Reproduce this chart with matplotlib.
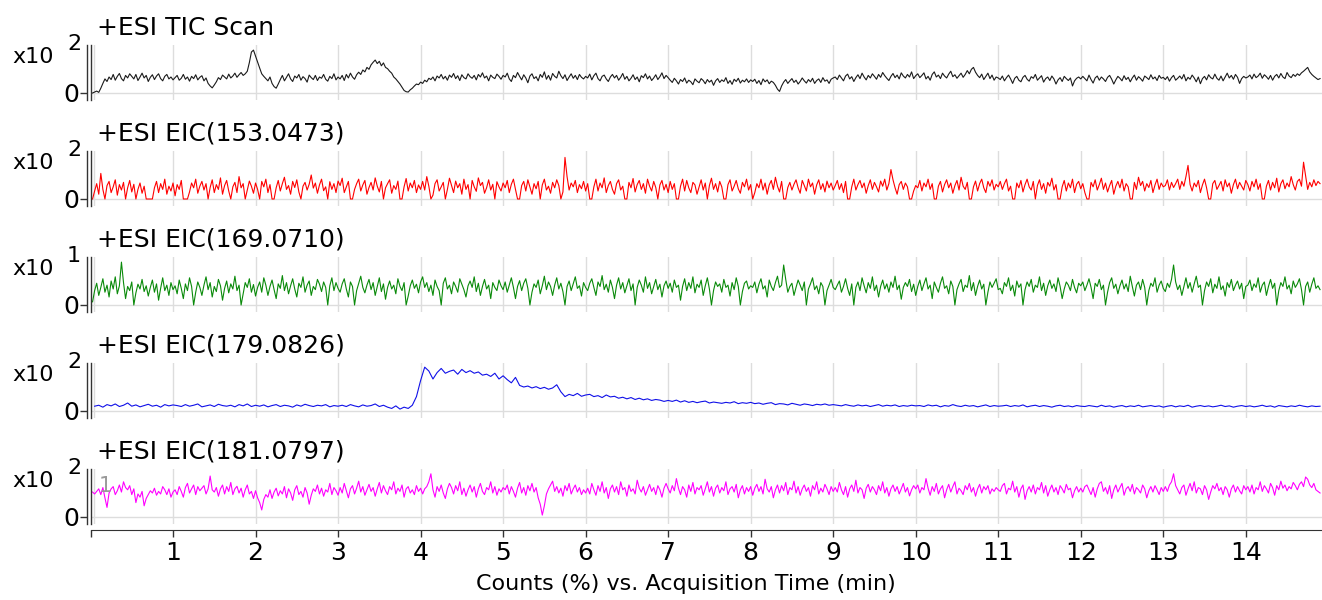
import numpy as np
import matplotlib
matplotlib.use("Agg")
import matplotlib.pyplot as plt
from matplotlib.lines import Line2D

plt.rcParams['font.family'] = ['DejaVu Sans']

# scan interval of each trace (min)
scan_step = [0.025, 0.025, 0.025, 0.05, 0.025]

# counts, in hundredths of the panel's axis unit (one row per minute)
tic_scan = [
    0, 3, 6, 2, 15, 30, 44, 36, 50, 42, 58, 40, 52, 61, 45, 38, 55, 47, 60, 52, 44, 58, 39, 50, 62, 47, 55, 36, 49, 57, 42, 53, 60, 45, 38, 52, 58, 44, 50, 41,
    48, 55, 40, 46, 58, 43, 50, 37, 52, 45, 57, 41, 49, 54, 38, 47, 30, 22, 16, 25, 35, 48, 42, 56, 50, 44, 59, 47, 53, 62, 49, 57, 64, 55, 60, 68, 95, 128, 134, 115,
    96, 78, 60, 52, 45, 38, 50, 30, 20, 15, 28, 42, 55, 38, 49, 60, 44, 36, 53, 47, 58, 40, 51, 45, 34, 56, 48, 42, 55, 39, 50, 46, 58, 43, 37, 52, 45, 60, 41, 50,
    44, 55, 39, 58, 47, 62, 50, 43, 57, 65, 58, 72, 66, 80, 74, 88, 96, 103, 92, 99, 85, 94, 80, 76, 68, 62, 50, 44, 36, 28, 18, 8, 4, 3, 10, 15, 22, 28, 26, 34,
    30, 40, 35, 46, 42, 50, 38, 53, 47, 58, 44, 52, 40, 56, 49, 61, 45, 54, 39, 57, 48, 44, 60, 51, 46, 55, 41, 58, 50, 63, 47, 53, 38, 56, 49, 45, 59, 52, 43, 55,
    50, 62, 44, 36, 55, 48, 64, 52, 41, 57, 47, 32, 53, 60, 45, 51, 38, 58, 49, 66, 43, 55, 40, 61, 52, 47, 68, 54, 45, 57, 39, 50, 60, 46, 55, 42, 58, 49, 44, 52,
    47, 59, 41, 54, 62, 45, 38, 52, 56, 44, 36, 50, 58, 47, 55, 40, 49, 61, 43, 52, 38, 46, 57, 42, 50, 35, 54, 48, 60, 44, 53, 39, 47, 57, 42, 51, 63, 45, 55, 48,
    40, 33, 46, 38, 28, 42, 36, 47, 31, 40, 35, 26, 44, 37, 32, 45, 39, 29, 42, 34, 40, 24, 38, 45, 33, 41, 36, 48, 30, 39, 27, 43, 36, 46, 31, 40, 35, 44, 33, 41,
    36, 43, 30, 39, 26, 44, 35, 41, 29, 37, 33, 24, 12, 5, 22, 34, 42, 30, 38, 45, 33, 40, 28, 36, 47, 38, 31, 42, 35, 46, 30, 39, 44, 33, 48, 37, 41, 30, 43, 47,
    50, 42, 56, 47, 38, 53, 59, 44, 51, 36, 48, 57, 45, 62, 50, 41, 55, 47, 60, 52, 43, 58, 49, 64, 54, 46, 39, 52, 61, 48, 56, 44, 63, 53, 47, 58, 50, 66, 45, 54,
    60, 48, 55, 63, 44, 52, 40, 58, 66, 50, 56, 45, 62, 53, 47, 59, 68, 51, 57, 46, 54, 62, 49, 58, 70, 60, 74, 80, 65, 55, 48, 59, 42, 52, 62, 45, 56, 40, 50, 47,
    42, 53, 38, 48, 56, 44, 30, 46, 52, 40, 35, 49, 55, 43, 37, 51, 46, 58, 40, 47, 54, 34, 45, 50, 39, 53, 44, 28, 41, 48, 36, 52, 45, 39, 47, 22, 38, 46, 50, 44,
    52, 45, 38, 56, 42, 31, 47, 53, 40, 50, 44, 36, 49, 55, 43, 28, 41, 52, 46, 38, 54, 42, 49, 35, 47, 56, 40, 51, 45, 37, 53, 48, 42, 57, 44, 50, 39, 55, 46, 49,
    42, 51, 37, 48, 55, 40, 46, 53, 44, 58, 38, 49, 43, 56, 47, 35, 50, 29, 45, 52, 41, 57, 48, 44, 59, 46, 40, 53, 38, 50, 62, 47, 55, 43, 58, 49, 30, 45, 52, 47,
    50, 56, 44, 59, 48, 53, 62, 46, 57, 51, 43, 55, 40, 52, 58, 47, 61, 50, 45, 64, 53, 48, 58, 52, 60, 55, 63, 68, 74, 80, 66, 58, 52, 47, 42, 45,
]

eic_153 = [
    0, 25, 48, 15, 80, 30, 0, 42, 55, 20, 38, 60, 12, 45, 28, 52, 0, 35, 58, 22, 46, 0, 30, 50, 18, 40, 0, 0, 0, 0, 35, 55, 20, 48, 30, 62, 15, 40, 25, 50,
    10, 45, 30, 58, 0, 0, 0, 22, 50, 35, 62, 18, 40, 55, 28, 48, 0, 36, 60, 20, 45, 30, 66, 15, 42, 58, 25, 0, 38, 52, 20, 70, 35, 48, 0, 28, 56, 40, 18, 50,
    30, 0, 55, 38, 62, 20, 45, 0, 0, 35, 58, 25, 48, 68, 30, 42, 15, 55, 36, 60, 22, 0, 40, 52, 28, 46, 75, 34, 50, 18, 44, 62, 26, 38, 0, 54, 30, 48, 20, 56,
    42, 65, 20, 38, 55, 0, 0, 30, 48, 62, 25, 44, 58, 15, 36, 52, 28, 66, 40, 22, 55, 0, 35, 48, 60, 18, 42, 30, 56, 0, 0, 38, 64, 25, 50, 35, 58, 20, 44, 30,
    55, 28, 70, 40, 0, 12, 48, 60, 25, 38, 52, 0, 30, 65, 42, 20, 56, 35, 48, 15, 62, 30, 45, 0, 58, 38, 24, 66, 42, 52, 18, 35, 60, 28, 46, 0, 54, 38, 25, 50,
    35, 58, 20, 46, 62, 30, 0, 0, 42, 55, 25, 60, 38, 15, 48, 32, 55, 0, 44, 62, 28, 40, 18, 52, 35, 60, 42, 0, 22, 130, 70, 28, 50, 38, 58, 20, 45, 32, 55, 25,
    48, 0, 0, 38, 62, 25, 50, 35, 66, 20, 42, 55, 30, 15, 48, 60, 28, 40, 0, 0, 52, 35, 64, 22, 45, 58, 30, 48, 18, 62, 40, 25, 55, 36, 0, 44, 58, 28, 46, 20,
    55, 30, 48, 0, 0, 40, 62, 25, 58, 35, 20, 52, 44, 15, 38, 60, 28, 50, 0, 42, 65, 30, 48, 22, 55, 38, 0, 0, 45, 60, 25, 40, 58, 32, 18, 52, 38, 62, 28, 45,
    0, 20, 48, 35, 62, 28, 50, 15, 44, 58, 30, 68, 40, 22, 55, 0, 0, 36, 52, 28, 46, 60, 35, 18, 58, 42, 25, 62, 38, 50, 15, 44, 60, 30, 48, 22, 56, 35, 50, 28,
    42, 58, 30, 48, 20, 55, 0, 0, 38, 62, 28, 45, 58, 35, 50, 18, 42, 60, 30, 52, 38, 22, 56, 40, 62, 28, 48, 92, 60, 35, 15, 45, 55, 30, 50, 38, 0, 0, 25, 42,
    35, 58, 25, 50, 38, 62, 30, 48, 0, 0, 40, 55, 22, 45, 60, 35, 50, 18, 42, 58, 28, 68, 40, 30, 52, 0, 0, 38, 56, 25, 48, 62, 35, 20, 55, 40, 60, 28, 46, 38,
    55, 30, 48, 62, 25, 40, 0, 0, 50, 35, 58, 22, 45, 62, 38, 28, 55, 0, 42, 60, 30, 48, 18, 52, 40, 65, 28, 45, 0, 0, 38, 58, 25, 50, 35, 62, 20, 46, 55, 32,
    48, 20, 0, 0, 52, 38, 60, 28, 45, 65, 30, 50, 22, 42, 58, 15, 40, 55, 35, 62, 25, 48, 38, 0, 0, 52, 30, 68, 42, 55, 25, 48, 36, 58, 20, 44, 62, 30, 50, 38,
    42, 60, 28, 52, 36, 48, 62, 30, 55, 40, 70, 105, 45, 25, 50, 38, 58, 20, 44, 62, 35, 0, 0, 48, 58, 30, 42, 55, 25, 60, 38, 50, 18, 45, 62, 32, 52, 40, 28, 58,
    45, 25, 55, 38, 62, 30, 48, 0, 0, 40, 58, 28, 52, 35, 65, 22, 48, 60, 32, 50, 38, 70, 45, 28, 55, 62, 40, 115, 72, 30, 52, 38, 60, 42, 55, 48,
]

eic_169 = [
    10, 45, 68, 30, 55, 82, 40, 62, 25, 75, 50, 88, 35, 60, 134, 70, 20, 58, 45, 72, 0, 38, 65, 50, 80, 42, 60, 28, 55, 78, 40, 66, 15, 52, 85, 45, 62, 30, 70, 48,
    60, 35, 78, 52, 20, 66, 45, 85, 58, 0, 40, 72, 55, 30, 62, 88, 48, 70, 25, 58, 42, 80, 60, 15, 52, 75, 38, 66, 50, 90, 45, 62, 0, 35, 70, 55, 82, 40, 64, 28,
    55, 72, 40, 85, 62, 30, 58, 78, 48, 20, 66, 52, 92, 45, 70, 35, 60, 82, 50, 25, 68, 55, 88, 40, 62, 75, 30, 58, 48, 80, 65, 42, 72, 55, 0, 60, 85, 45, 70, 52,
    40, 66, 82, 50, 25, 72, 58, 0, 45, 68, 90, 55, 38, 62, 80, 48, 70, 30, 58, 85, 42, 66, 18, 55, 75, 50, 62, 35, 82, 58, 45, 70, 0, 28, 60, 78, 52, 65, 38, 72,
    88, 55, 70, 42, 62, 30, 78, 58, 45, 0, 68, 85, 50, 62, 35, 72, 58, 40, 82, 65, 48, 25, 60, 75, 55, 88, 42, 68, 30, 58, 80, 50, 62, 20, 70, 55, 45, 78, 60, 48,
    72, 40, 62, 85, 55, 20, 58, 76, 45, 68, 82, 52, 0, 40, 66, 55, 78, 35, 60, 90, 48, 72, 58, 30, 62, 85, 50, 68, 42, 0, 58, 75, 45, 66, 88, 52, 60, 28, 70, 55,
    45, 68, 82, 55, 30, 72, 58, 92, 48, 65, 40, 78, 55, 20, 62, 85, 50, 70, 38, 60, 82, 45, 66, 0, 55, 78, 62, 40, 88, 52, 70, 35, 58, 80, 48, 65, 25, 60, 75, 52,
    68, 40, 78, 55, 62, 15, 58, 82, 45, 70, 52, 88, 38, 65, 55, 78, 30, 60, 85, 50, 0, 45, 72, 58, 66, 40, 80, 55, 62, 28, 70, 48, 85, 58, 0, 42, 68, 75, 50, 60,
    55, 72, 38, 65, 82, 50, 60, 25, 78, 58, 45, 70, 90, 55, 62, 125, 80, 40, 58, 68, 30, 55, 78, 62, 45, 72, 0, 50, 66, 85, 48, 60, 35, 70, 58, 0, 45, 62, 80, 55,
    48, 62, 75, 40, 58, 82, 52, 30, 66, 0, 55, 72, 45, 85, 60, 38, 70, 52, 88, 45, 62, 25, 58, 78, 50, 66, 40, 72, 55, 90, 48, 62, 18, 55, 70, 58, 80, 42, 65, 30,
    58, 78, 45, 66, 85, 50, 62, 20, 72, 55, 40, 68, 88, 52, 60, 35, 75, 58, 0, 48, 66, 80, 42, 62, 55, 92, 45, 70, 30, 58, 78, 50, 65, 0, 40, 72, 55, 68, 82, 48,
    52, 35, 70, 58, 85, 45, 62, 28, 75, 55, 66, 0, 48, 72, 58, 80, 40, 62, 55, 88, 45, 68, 30, 60, 78, 52, 66, 42, 85, 58, 20, 50, 72, 62, 45, 80, 55, 38, 68, 60,
    72, 45, 62, 82, 55, 20, 68, 58, 80, 48, 62, 0, 40, 70, 85, 52, 65, 35, 60, 78, 50, 66, 42, 90, 58, 28, 62, 72, 48, 80, 55, 0, 45, 68, 58, 85, 40, 62, 75, 52,
    42, 68, 55, 80, 125, 72, 48, 62, 30, 58, 85, 52, 70, 40, 66, 90, 55, 62, 0, 45, 72, 58, 82, 38, 65, 52, 88, 48, 60, 28, 70, 55, 80, 45, 62, 75, 50, 68, 20, 58,
    62, 78, 45, 66, 55, 85, 40, 62, 72, 30, 58, 80, 52, 68, 0, 45, 70, 58, 88, 50, 62, 35, 75, 55, 66, 82, 48, 0, 58, 72, 40, 65, 85, 52, 60, 48,
]

eic_179 = [
    15, 18, 12, 20, 16, 22, 14, 18, 25, 15, 19, 13, 17, 21, 15, 18, 12, 20, 16, 19,
    17, 14, 20, 15, 18, 22, 13, 16, 19, 14, 21, 17, 15, 18, 13, 20, 16, 22, 14, 18,
    15, 19, 13, 17, 20, 14, 18, 16, 12, 19, 15, 21, 17, 14, 18, 16, 20, 13, 17, 15,
    18, 14, 20, 16, 13, 19, 15, 17, 22, 14, 18, 12, 8, 16, 6, 12, 8, 18, 45, 95,
    137, 125, 100, 120, 133, 118, 124, 128, 115, 130, 120, 126, 118, 122, 112, 115, 108, 118, 100, 110,
    98, 88, 105, 80, 75, 78, 72, 76, 70, 74, 68, 72, 82, 60, 45, 52, 48, 55, 46, 50,
    52, 45, 48, 42, 50, 44, 46, 40, 43, 38, 42, 36, 40, 35, 38, 33, 36, 34, 30, 33,
    30, 34, 28, 32, 27, 30, 26, 29, 31, 25, 28, 26, 24, 27, 25, 29, 23, 26, 24, 27,
    23, 25, 21, 24, 26, 20, 23, 22, 19, 24, 21, 18, 22, 20, 17, 21, 19, 22, 18, 20,
    18, 16, 20, 17, 15, 19, 16, 18, 14, 17, 20, 15, 18, 16, 19, 14, 17, 15, 18, 16,
    17, 14, 19, 16, 18, 13, 17, 15, 20, 16, 14, 18, 15, 17, 13, 16, 19, 14, 17, 15,
    16, 18, 14, 17, 15, 19, 13, 16, 18, 14, 17, 15, 12, 16, 18, 14, 16, 13, 17, 15,
    14, 17, 15, 13, 18, 14, 16, 12, 15, 17, 13, 16, 14, 18, 13, 15, 17, 14, 16, 12,
    15, 17, 13, 16, 14, 18, 12, 15, 17, 14, 16, 13, 15, 18, 14, 16, 12, 15, 17, 14,
    16, 13, 15, 18, 14, 16, 12, 17, 15, 13, 16, 14, 18, 15, 13, 16, 14, 15,
]

eic_181 = [
    78, 72, 80, 88, 70, 92, 60, 30, 75, 88, 95, 70, 82, 100, 78, 110, 92, 85, 98, 70, 88, 45, 72, 62, 80, 35, 58, 70, 82, 75, 90, 68, 80, 72, 95, 85, 70, 88, 62, 78,
    85, 70, 95, 80, 62, 92, 105, 75, 88, 100, 70, 95, 82, 90, 98, 72, 88, 128, 85, 78, 92, 65, 88, 100, 72, 95, 80, 108, 70, 88, 96, 75, 90, 62, 85, 100, 72, 80, 58, 82,
    60, 45, 22, 55, 70, 62, 85, 58, 78, 90, 66, 82, 72, 95, 60, 88, 75, 52, 85, 98, 70, 80, 62, 92, 75, 40, 68, 88, 80, 100, 72, 90, 65, 85, 78, 105, 70, 92, 82, 68,
    92, 75, 105, 82, 60, 88, 98, 72, 90, 112, 78, 95, 68, 85, 102, 80, 92, 65, 88, 108, 75, 98, 82, 70, 95, 85, 110, 72, 90, 80, 100, 62, 88, 95, 75, 85, 70, 98, 80, 90,
    72, 88, 95, 110, 135, 85, 62, 95, 80, 100, 75, 58, 88, 105, 92, 72, 98, 82, 110, 70, 90, 65, 85, 100, 78, 95, 62, 88, 105, 80, 70, 92, 85, 110, 75, 95, 68, 88, 78, 92,
    85, 100, 72, 95, 80, 62, 90, 108, 75, 92, 68, 98, 82, 105, 78, 92, 60, 40, 6, 35, 72, 88, 100, 112, 80, 95, 75, 90, 65, 98, 82, 105, 72, 88, 100, 78, 92, 70, 85, 75,
    90, 72, 105, 85, 68, 98, 80, 110, 75, 92, 58, 88, 100, 78, 95, 70, 110, 85, 92, 65, 100, 80, 88, 72, 115, 90, 78, 95, 68, 85, 102, 80, 92, 70, 98, 85, 62, 90, 105, 88,
    75, 98, 82, 120, 90, 70, 95, 85, 62, 100, 80, 108, 72, 92, 85, 98, 68, 88, 110, 78, 95, 65, 90, 100, 75, 92, 82, 110, 70, 88, 95, 78, 102, 60, 85, 98, 72, 92, 80, 95,
    68, 90, 102, 80, 95, 72, 118, 88, 78, 95, 60, 85, 100, 75, 98, 82, 108, 70, 92, 85, 112, 75, 95, 68, 88, 100, 80, 92, 65, 98, 85, 110, 72, 90, 78, 102, 88, 70, 95, 80,
    92, 78, 108, 85, 70, 95, 62, 88, 100, 80, 115, 75, 92, 85, 58, 90, 102, 78, 95, 85, 70, 98, 82, 110, 75, 92, 65, 88, 100, 80, 95, 72, 88, 105, 78, 92, 66, 85, 98, 88,
    100, 75, 92, 85, 120, 90, 68, 95, 80, 105, 72, 88, 98, 60, 85, 102, 78, 95, 110, 72, 90, 82, 70, 98, 85, 105, 78, 92, 65, 88, 102, 75, 95, 85, 98, 72, 88, 80, 92, 85,
    80, 98, 105, 72, 90, 85, 112, 78, 95, 62, 88, 100, 55, 82, 95, 78, 100, 72, 92, 85, 108, 75, 98, 65, 85, 100, 78, 92, 70, 98, 88, 75, 102, 85, 90, 60, 82, 95, 78, 90,
    78, 95, 100, 85, 70, 92, 62, 88, 105, 110, 80, 92, 72, 98, 58, 85, 100, 78, 92, 105, 68, 88, 95, 80, 102, 72, 92, 85, 75, 100, 88, 60, 82, 95, 78, 98, 85, 70, 92, 80,
    95, 80, 100, 110, 135, 98, 85, 72, 92, 100, 68, 88, 105, 82, 110, 75, 92, 88, 70, 98, 85, 55, 78, 98, 88, 105, 82, 92, 70, 95, 85, 62, 88, 100, 78, 95, 82, 72, 98, 85,
    95, 78, 100, 72, 92, 85, 110, 80, 98, 88, 75, 105, 92, 68, 98, 85, 112, 90, 100, 82, 95, 88, 108, 98, 85, 102, 110, 95, 125, 118, 100, 92, 105, 85, 80, 75,
]

titles = ['+ESI TIC Scan', '+ESI EIC(153.0473)', '+ESI EIC(169.0710)',
          '+ESI EIC(179.0826)', '+ESI EIC(181.0797)']
exponents = ['2', '2', '1', '2', '2']
traces = [tic_scan, eic_153, eic_169, eic_179, eic_181]
colors = ['#1a1a1a', '#ff0000', '#0a8a0a', '#1010e8', '#ff00ff']
minute_ticks = list(range(0, 15))

W, H = 1322, 600
fig = plt.figure(figsize=(W / 100, H / 100), dpi=100)


def fx(x):
    return x / W


def fy(y):
    return 1 - y / H


x0_px = 90.5
px_per_min = 82.52
xmax = (W - x0_px) / px_per_min
grid_col = '#dddddd'
axis_col = '#333333'

for i in range(5):
    zero = 93 + 106 * i
    top, bot = zero - 48, zero + 7
    ax = fig.add_axes([fx(x0_px), fy(bot), 1 - fx(x0_px), (bot - top) / H])
    ax.set_xlim(0, xmax)
    ax.set_ylim(-7 / 32, 48 / 32)

    for m in range(1, 15):
        ax.axvline(m, color=grid_col, lw=1, zorder=0)
    ax.axhline(0, color=grid_col, lw=1, zorder=0)
    ax.axvline(0.04, color=grid_col, lw=1, zorder=0)

    vals = np.array(traces[i]) / 100
    t = np.arange(1, len(vals) + 1) * scan_step[i]
    ax.plot(t, vals, color=colors[i], lw=0.8)

    for s in ['top', 'right']:
        ax.spines[s].set_visible(False)
    ax.spines['left'].set_position(('outward', 2.2))
    ax.spines['left'].set_color(axis_col)
    ax.spines['left'].set_linewidth(1)
    # second line of the double axis
    ax.add_line(Line2D([0, 0], [0, 1], transform=ax.transAxes, color=axis_col,
                       lw=1, clip_on=False))

    ax.set_yticks([0])
    ax.set_yticklabels(['0'])
    ax.tick_params(axis='y', length=5, width=1, color=axis_col, pad=1,
                   labelsize=18)

    ax.set_xticks(minute_ticks)
    if i < 4:
        ax.spines['bottom'].set_visible(False)
        ax.tick_params(axis='x', length=0, labelbottom=False)
    else:
        ax.spines['bottom'].set_position(('outward', 4.3))
        ax.spines['bottom'].set_color(axis_col)
        ax.set_xticklabels([''] + [str(m) for m in minute_ticks[1:]])
        ax.tick_params(axis='x', length=5, width=1, color=axis_col, pad=3,
                       labelsize=18)

    fig.text(fx(97), fy(zero - 58), titles[i], fontsize=18, va='baseline')
    fig.text(fx(12), fy(zero - 30), 'x10', fontsize=16, va='baseline')
    fig.text(fx(67), fy(zero - 43), exponents[i], fontsize=16, va='baseline')

# faint marker label in the last panel
fig.text(fx(99), fy(492), '1', fontsize=15, color='#9a9a9a', va='baseline')

fig.text(fx(686), fy(590), 'Counts (%) vs. Acquisition Time (min)',
         fontsize=16, ha='center', va='baseline')

fig.savefig('out.png', dpi=100)
